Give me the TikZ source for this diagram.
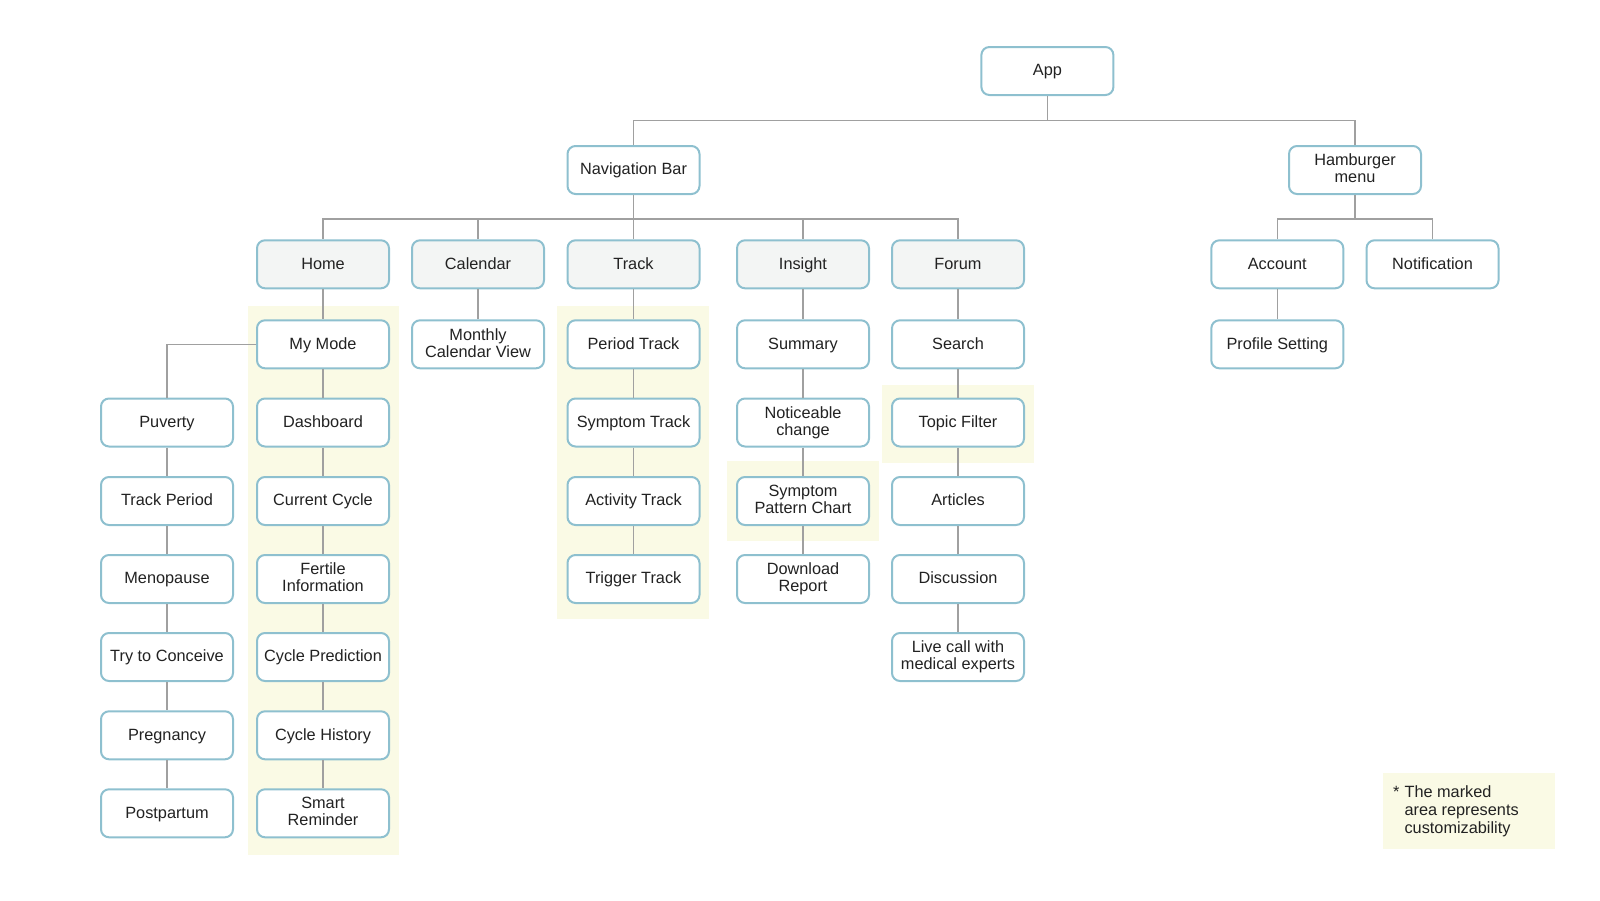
\documentclass[tikz,border=0pt]{standalone}
\usepackage{fontspec}
\setmainfont{Liberation Sans}
\usepackage{tikz}
\definecolor{boxline}{HTML}{8EC0CF}
\definecolor{topfill}{HTML}{F3F5F4}
\definecolor{custom}{HTML}{FAFAE5}
\definecolor{linkgray}{HTML}{A0A0A0}
\definecolor{ink}{HTML}{222222}
\newcommand\nodestrut{\vrule width0pt height13pt depth3.3pt\relax}
\tikzset{
  item/.style={draw=boxline,line width=2pt,rounded corners=8pt,fill=white,text=ink,
    minimum width=132pt,minimum height=48pt,inner sep=1pt,align=center,
    font=\fontsize{16.3}{17}\selectfont,execute at begin node=\nodestrut,execute at end node=\nodestrut},
  main/.style={item,fill=topfill},
  link/.style={draw=linkgray,line width=1.2pt},
}

\begin{document}
\begin{tikzpicture}[x=1pt,y=-1pt]
              \useasboundingbox(0,0)rectangle(1600,900);
              % marked areas
              \fill[custom](247.7,306)rectangle(399.3,855);
              \fill[custom](557.3,306)rectangle(709,619.3);
              \fill[custom](727,461.3)rectangle(879,541);
              \fill[custom](882,385)rectangle(1034,462.7);
              \fill[custom](1383,772.7)rectangle(1555,848.7);
              \coordinate(bar1)at(0,120.3);
              \coordinate(bar2)at(0,219);
              % top levels
              \node[item](app)at(1047.4,71){App};
              \node[item](nav)at(633.5,170){Navigation Bar};
              \node[item](ham)at(1355,170){Hamburger\\menu};
              \node[main](home)at(323,264.3){Home};
              \node[main](cal)at(478,264.3){Calendar};
              \node[main](track)at(633.5,264.3){Track};
              \node[main](insight)at(803,264.3){Insight};
              \node[main](forum)at(958,264.3){Forum};
              \node[item](account)at(1277.3,264.3){Account};
              \node[item](notif)at(1432.5,264.3){Notification};
              % home column
              \node[item](mymode)at(323,344.3){My Mode};
              \node[item](dash)at(323,422.5){Dashboard};
              \node[item](cycle)at(323,501){Current Cycle};
              \node[item](fertile)at(323,579){Fertile\\Information};
              \node[item](predict)at(323,657){Cycle Prediction};
              \node[item](history)at(323,735.3){Cycle History};
              \node[item](remind)at(323,813.3){Smart\\Reminder};
              % modes
              \node[item](puverty)at(167,422.5){Puverty};
              \node[item](period)at(167,501){Track Period};
              \node[item](meno)at(167,579){Menopause};
              \node[item](conceive)at(167,657){Try to Conceive};
              \node[item](preg)at(167,735.3){Pregnancy};
              \node[item](postp)at(167,813.3){Postpartum};
              % calendar and track
              \node[item](monthly)at(478,344.3){Monthly\\Calendar View};
              \node[item](ptrack)at(633.5,344.3){Period Track};
              \node[item](strack)at(633.5,422.5){Symptom Track};
              \node[item](atrack)at(633.5,501){Activity Track};
              \node[item](ttrack)at(633.5,579){Trigger Track};
              % insight
              \node[item](summary)at(803,344.3){Summary};
              \node[item](notice)at(803,422.5){Noticeable\\change};
              \node[item](pattern)at(803,501){Symptom\\Pattern Chart};
              \node[item](download)at(803,579){Download\\Report};
              % forum
              \node[item](search)at(958,344.3){Search};
              \node[item](topic)at(958,422.5){Topic Filter};
              \node[item](articles)at(958,501){Articles};
              \node[item](discuss)at(958,579){Discussion};
              \node[item](livecall)at(958,657){Live call with\\medical experts};
              % hamburger menu
              \node[item](profile)at(1277.3,344.3){Profile Setting};
              % links
              \draw[link](app)--(app|-bar1)-|(nav);
              \draw[link](app|-bar1)-|(ham);
              \draw[link](nav)--(nav|-bar2)-|(home);
              \draw[link](nav|-bar2)-|(cal);
              \draw[link](nav|-bar2)--(track);
              \draw[link](nav|-bar2)-|(insight);
              \draw[link](nav|-bar2)-|(forum);
              \draw[link](ham)--(ham|-bar2)-|(account);
              \draw[link](ham|-bar2)-|(notif);
              \draw[link](home)--(mymode)--(dash)--(cycle)--(fertile)--(predict)--(history)--(remind);
              \draw[link](mymode)-|(puverty);
              \draw[link](puverty)--(period)--(meno)--(conceive)--(preg)--(postp);
              \draw[link](cal)--(monthly);
              \draw[link](track)--(ptrack)--(strack)--(atrack)--(ttrack);
              \draw[link](insight)--(summary)--(notice)--(pattern)--(download);
              \draw[link](forum)--(search)--(topic)--(articles)--(discuss)--(livecall);
              \draw[link](account)--(profile);
              % legend
              \node[anchor=north west,inner sep=0pt,text=ink,font=\fontsize{16.3}{18}\selectfont](note)at(1393,785){%
                \begin{tabular}{@{}l@{\hspace{5pt}}l@{}}*&The marked\\&area represents\\&customizability\end{tabular}};
            \end{tikzpicture}
\end{document}
